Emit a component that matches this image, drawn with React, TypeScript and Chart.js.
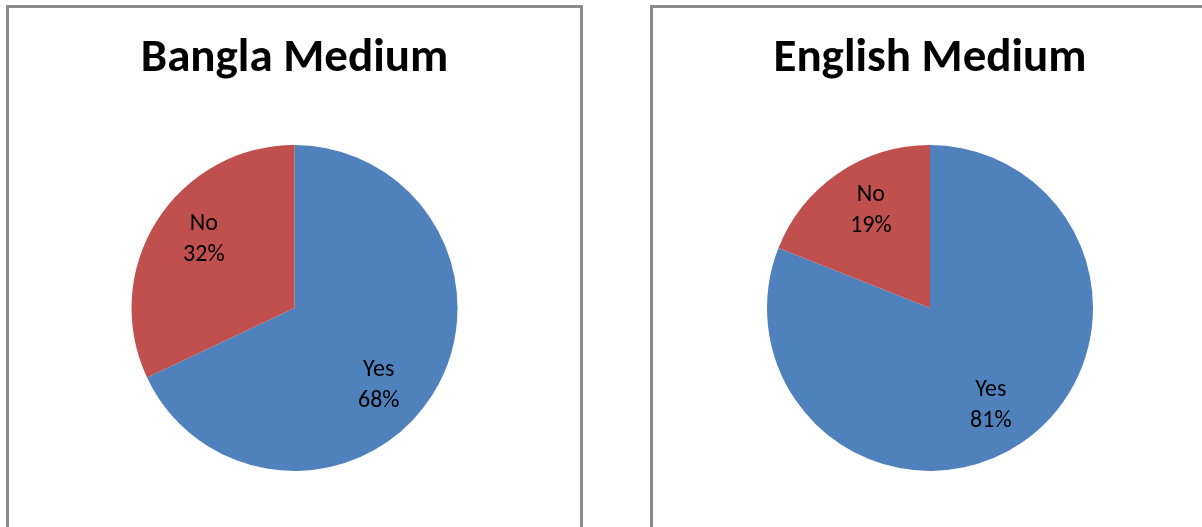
import React, { useEffect, useRef } from "react";
import { Chart, registerables } from "chart.js";

Chart.register(...registerables);

const categories = ["Yes", "No"];
const banglaValues = [68, 32];
const englishValues = [81, 19];
const titles = ["Bangla Medium", "English Medium"];
const colors = ["#4F81BD", "#C0504D"];
// Excel's "best fit" nudges the data labels a few degrees clockwise from the slice middle
const banglaLabelShiftDeg = [10, 5];
const englishLabelShiftDeg = [2, 3];

const FONT = "Carlito, Calibri, Lato, 'Noto Sans', sans-serif";

const sliceLabels = {
  id: "sliceLabels",
  afterDatasetsDraw(chart: any, _args: any, opts: any) {
    const ctx = chart.ctx;
    const meta = chart.getDatasetMeta(0);
    const data = chart.data.datasets[0].data as number[];
    const total = data.reduce((a, b) => a + b, 0);
    const shifts: number[] = (opts && opts.shifts) || [];
    ctx.save();
    ctx.fillStyle = "#000";
    ctx.font = `24px ${FONT}`;
    ctx.textAlign = "center";
    ctx.textBaseline = "middle";
    meta.data.forEach((arc: any, i: number) => {
      const mid = (arc.startAngle + arc.endAngle) / 2 + ((shifts[i] || 0) * Math.PI) / 180;
      const r = arc.outerRadius * 0.7;
      const x = arc.x + Math.cos(mid) * r;
      const y = arc.y + Math.sin(mid) * r;
      const pct = Math.round((data[i] / total) * 100) + "%";
      ctx.fillText(String(chart.data.labels[i]), x, y - 15);
      ctx.fillText(pct, x, y + 16);
    });
    ctx.restore();
  },
};

function PiePanel({ title, values, shifts, left, width }: { title: string; values: number[]; shifts: number[]; left: number; width: number }) {
  const ref = useRef<HTMLCanvasElement>(null);
  useEffect(() => {
    if (!ref.current) return;
    const chart = new Chart(ref.current, {
      type: "pie",
      data: {
        labels: categories,
        datasets: [{ data: values, backgroundColor: colors, borderWidth: 0 }],
      },
      options: {
        responsive: false,
        animation: false,
        layout: { padding: { bottom: 56 } },
        plugins: {
          legend: { display: false },
          tooltip: { enabled: false },
          sliceLabels: { shifts },
          title: {
            display: true,
            text: title,
            color: "#000",
            font: { family: FONT, size: 47, weight: "bold", lineHeight: 1.2 },
            padding: { top: 23.5, bottom: 57.1 },
          },
        } as any,
      },
      plugins: [sliceLabels],
    });
    return () => chart.destroy();
  }, []);
  return (
    <div
      style={{
        position: "absolute",
        left,
        top: 5,
        border: "3px solid #8a8a8a",
        background: "#fff",
        width,
        height: 530,
      }}
    >
      <canvas ref={ref} width={width} height={519} style={{ display: "block" }} />
    </div>
  );
}

export default function App() {
  return (
    <div style={{ position: "fixed", inset: 0, overflow: "hidden", background: "#fff" }}>
      <PiePanel title={titles[0]} values={banglaValues} shifts={banglaLabelShiftDeg} left={6} width={571} />
      <PiePanel title={titles[1]} values={englishValues} shifts={englishLabelShiftDeg} left={650} width={554} />
    </div>
  );
}
